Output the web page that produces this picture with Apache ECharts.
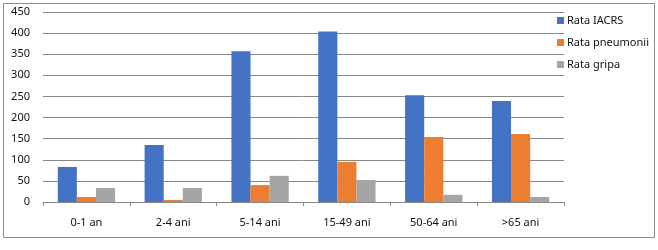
<!DOCTYPE html>
<html><head><meta charset="utf-8">
<script src="https://cdn.jsdelivr.net/npm/echarts@6/dist/echarts.min.js"></script>
<style>html,body{margin:0;padding:0;background:#fff}#c{width:658px;height:250px}</style>
</head><body><div id="c"></div>
<script>
const categories = ['0-1 an','2-4 ani','5-14 ani','15-49 ani','50-64 ani','>65 ani'];
const seriesNames = ['Rata IACRS','Rata pneumonii','Rata gripa'];
const rataIACRS = [83, 135, 357, 404, 253, 239];
const rataPneumonii = [12, 5, 40, 95, 154, 161];
const rataGripa = [33, 33, 62, 52, 17, 12];
const yTicks = [0, 50, 100, 150, 200, 250, 300, 350, 400, 450];

const colors = ['#4472C4', '#ED7D31', '#A5A5A5'];
const font = 'Noto Sans';
const chart = echarts.init(document.getElementById('c'), null, {renderer: 'canvas'});
chart.setOption({
  animation: false,
  textStyle: {fontFamily: font},
  graphic: [{type: 'rect', shape: {x: 3.5, y: 3.5, width: 651, height: 234}, style: {fill: 'none', stroke: '#8c8c8c', lineWidth: 1}, silent: true}],
  grid: {left: 43, right: 94, top: 12, bottom: 48, containLabel: false},
  legend: {
    orient: 'vertical', left: 552, top: 10, itemWidth: 7, itemHeight: 7, itemGap: 11,
    icon: 'rect', data: seriesNames,
    textStyle: {fontFamily: font, fontSize: 11, color: '#111', padding: [0, 0, 0, -2]}
  },
  xAxis: {
    type: 'category', data: categories,
    axisLine: {lineStyle: {color: '#888'}},
    axisTick: {show: true, length: 4, lineStyle: {color: '#888'}},
    axisLabel: {fontFamily: font, fontSize: 11, color: '#111', margin: 15}
  },
  yAxis: {
    type: 'value', min: yTicks[0], max: yTicks[yTicks.length - 1], interval: 50,
    axisLine: {show: false}, axisTick: {show: false},
    splitLine: {lineStyle: {color: '#888'}},
    axisLabel: {fontFamily: font, fontSize: 11, color: '#111', margin: 13}
  },
  series: [
    {name: seriesNames[0], type: 'bar', data: rataIACRS, itemStyle: {color: colors[0]}, barGap: '0%', barCategoryGap: '34%'},
    {name: seriesNames[1], type: 'bar', data: rataPneumonii, itemStyle: {color: colors[1]}},
    {name: seriesNames[2], type: 'bar', data: rataGripa, itemStyle: {color: colors[2]}}
  ]
});
</script></body></html>
